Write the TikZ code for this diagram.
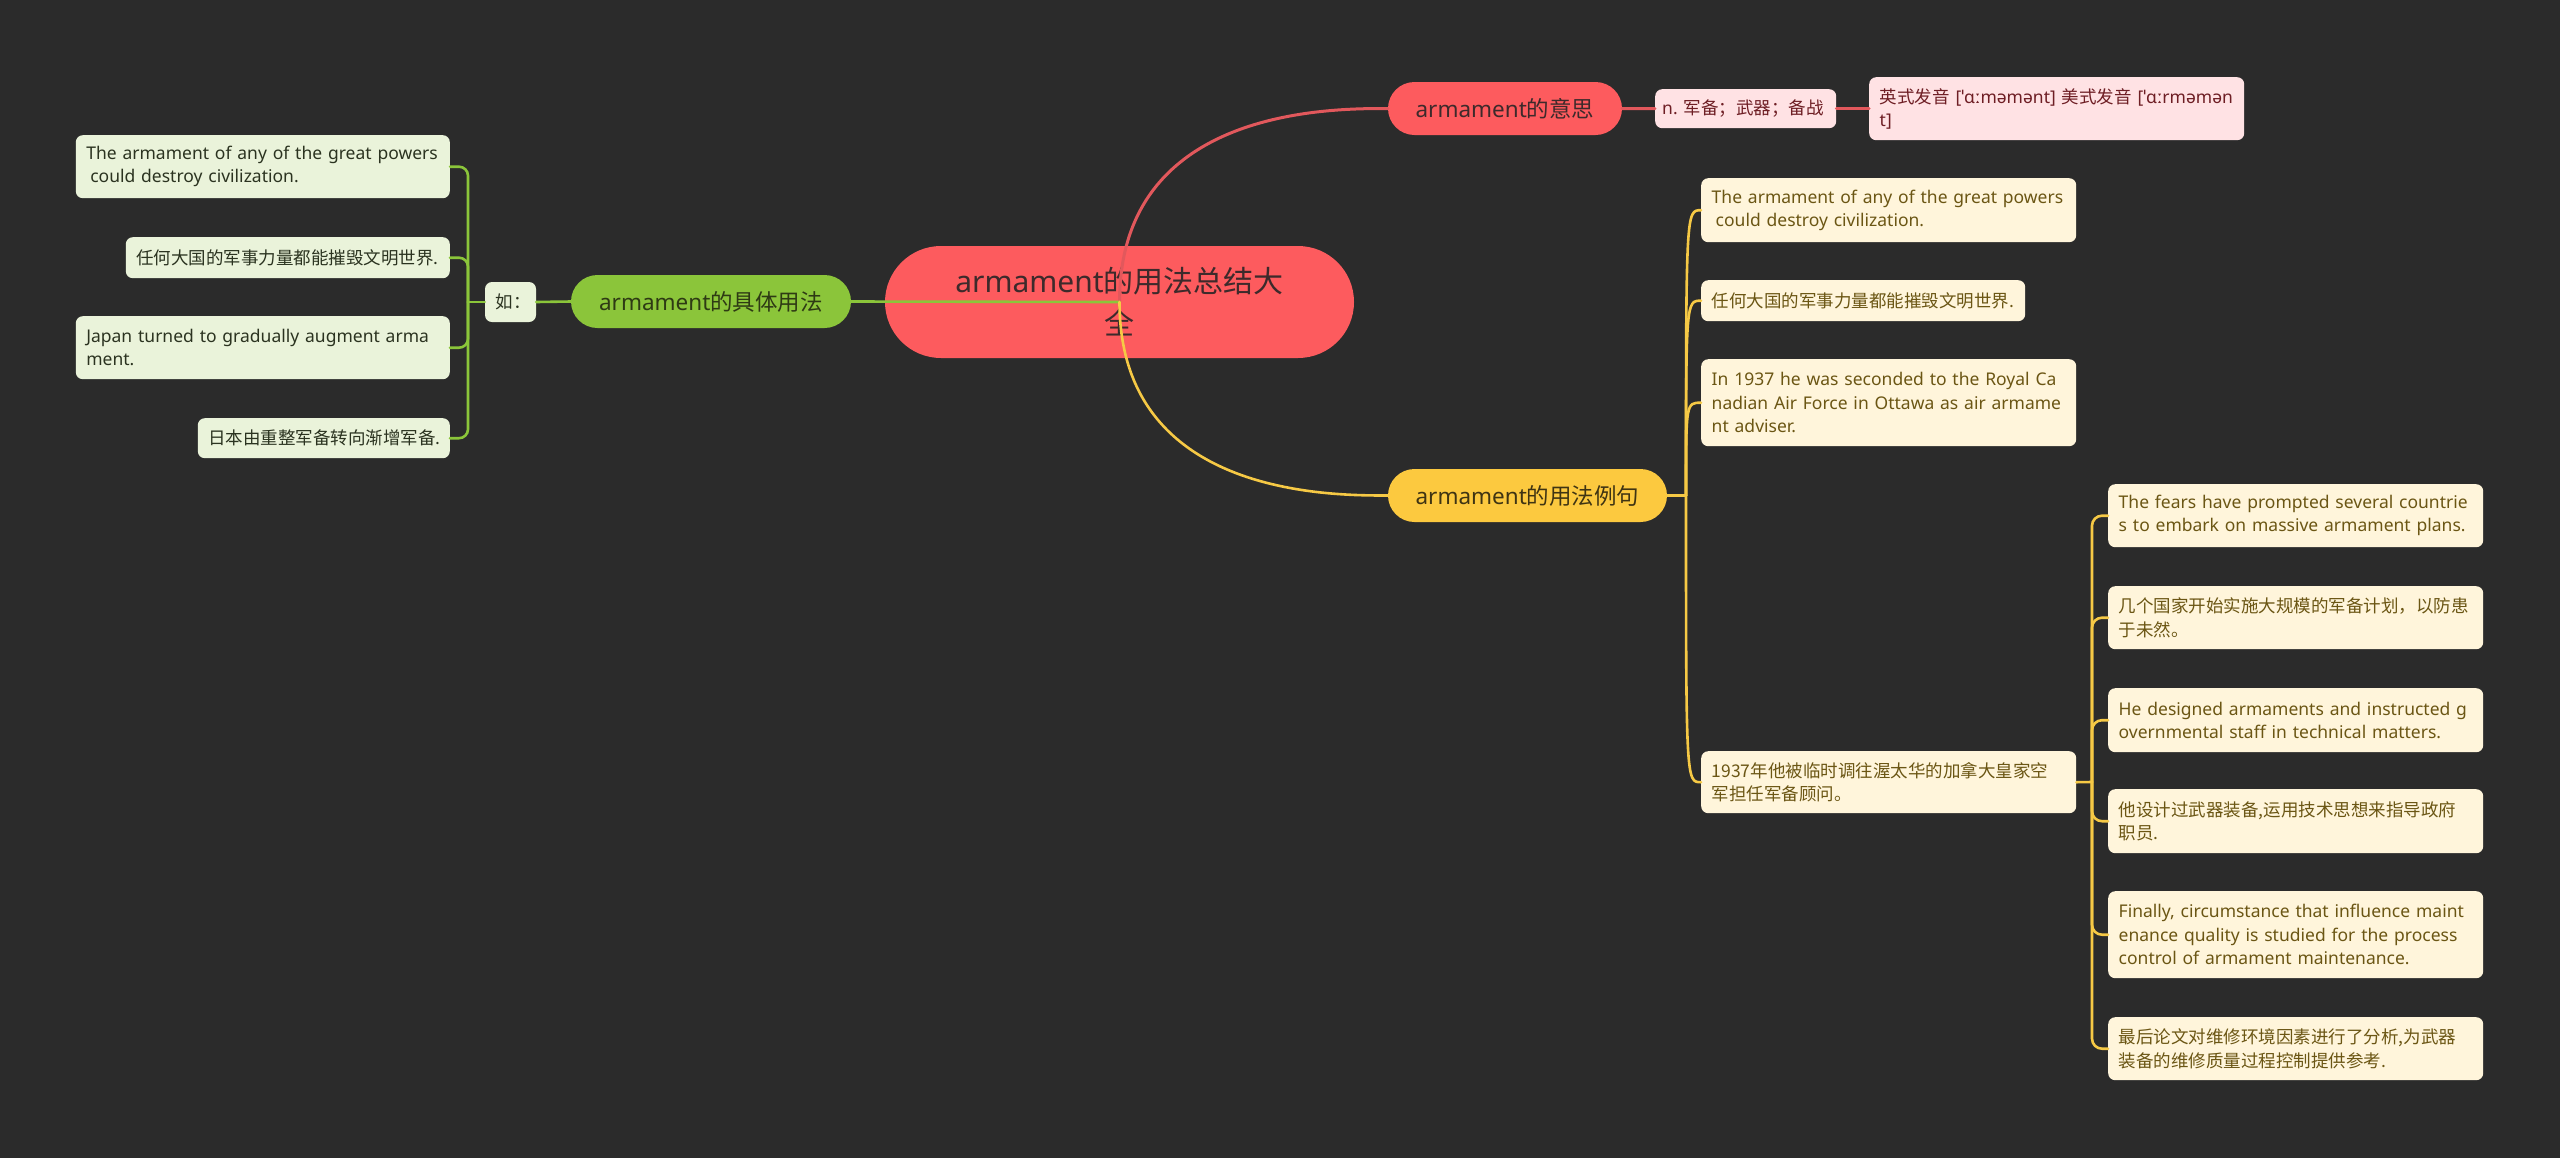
\documentclass[tikz,border=0pt]{standalone}
\usepackage{fontspec}
\setmainfont{Noto Sans}
\newfontfamily\cjk{Noto Sans CJK SC}
\usepackage{xcolor}
\definecolor{bgdark}{HTML}{2B2B2B}
\definecolor{rootred}{HTML}{FD5B5E}
\definecolor{rootink}{HTML}{3D2A2B}
\definecolor{pinkfill}{HTML}{FFE2E4}
\definecolor{pinkink}{HTML}{6E1E24}
\definecolor{redwire}{HTML}{E2585C}
\definecolor{greenfill}{HTML}{8BC53A}
\definecolor{greenink}{HTML}{2E3A14}
\definecolor{paleleaf}{HTML}{EAF3DA}
\definecolor{leafink}{HTML}{2B3320}
\definecolor{yelfill}{HTML}{FCC93F}
\definecolor{yelink}{HTML}{3F3413}
\definecolor{creamfill}{HTML}{FFF5DB}
\definecolor{creamink}{HTML}{6B5614}
\definecolor{yelwire}{HTML}{F6C945}

\tikzset{
  rootnode/.style={fill=rootred, text=rootink, rounded corners=56pt, minimum width=469pt,
    minimum height=112pt, inner sep=0pt, align=center, font=\fontsize{30}{42}\selectfont},
  mainnode/.style={rounded corners=26.5pt, minimum height=53pt, inner sep=0pt,
    font=\fontsize{22.5}{27}\selectfont},
  leaf/.style={rounded corners=7pt, inner xsep=10.5pt, inner ysep=0pt, align=left,
    font=\fontsize{17.5}{23.3}\selectfont},
  redleaf/.style={leaf, fill=pinkfill, text=pinkink},
  greenleaf/.style={leaf, fill=paleleaf, text=leafink},
  yelleaf/.style={leaf, fill=creamfill, text=creamink},
  redline/.style={draw=redwire, line width=3pt},
  greenline/.style={draw=greenfill, line width=2.6pt},
  yelline/.style={draw=yelwire, line width=2.6pt}
}

\begin{document}
\begin{tikzpicture}[x=1pt,y=-1pt,line cap=round]
            % background
            \useasboundingbox (0,0) rectangle (2560,1157);
            \fill[bgdark] (-3,-3) rectangle (2563,1160);

            % centre topic
            \node[rootnode] (root) at (1119.5,302) {armament{\cjk 的用法总结大}\\{\cjk 全}};

            % red branch: meaning
            \node[mainnode, fill=rootred, text=rootink, minimum width=234pt] (mean) at (1505,108.5) {armament{\cjk 的意思}};
            \node[redleaf, inner xsep=7pt, anchor=north west, text width=167pt, minimum height=39pt] (noun) at (1655,89) {n.~{\cjk 军备；武器；备战}};
            \node[redleaf, anchor=north west, text width=354pt, minimum height=63pt] (pron) at (1869,77)
                {{\cjk 英式发音} [ˈɑːmәmәnt] {\cjk 美式发音} [ˈɑːrmәmәn\\t]};

            % green branch: usage
            \node[mainnode, fill=greenfill, text=greenink, minimum width=280pt] (grn) at (711,301.5) {armament{\cjk 的具体用法}};
            \node[greenleaf, text width=30pt, minimum height=40pt] (ru) at (510.5,302) {\cjk 如：};
            \node[greenleaf, anchor=north east, text width=353pt, minimum height=63pt] (l1) at (450,135)
                {The armament of any of the great powers\\\hspace*{4pt}could destroy civilization.};
            \node[greenleaf, anchor=north east, text width=303pt, minimum height=41pt] (l2) at (450,237)
                {\cjk 任何大国的军事力量都能摧毁文明世界.};
            \node[greenleaf, anchor=north east, text width=353pt, minimum height=63pt] (l3) at (450,316)
                {Japan turned to gradually augment arma\\ment.};
            \node[greenleaf, anchor=north east, text width=231pt, minimum height=40pt] (l4) at (450,418)
                {\cjk 日本由重整军备转向渐增军备.};

            % yellow branch: examples
            \node[mainnode, fill=yelfill, text=yelink, minimum width=279pt] (yel) at (1527.5,495.5) {armament{\cjk 的用法例句}};
            \node[yelleaf, anchor=north west, text width=354pt, minimum height=64pt] (y1) at (1701,178)
                {The armament of any of the great powers\\\hspace*{4pt}could destroy civilization.};
            \node[yelleaf, anchor=north west, text width=303pt, minimum height=41pt] (y2) at (1701,280)
                {\cjk 任何大国的军事力量都能摧毁文明世界.};
            \node[yelleaf, anchor=north west, text width=354pt, minimum height=87pt] (y3) at (1701,359)
                {In 1937 he was seconded to the Royal Ca\\nadian Air Force in Ottawa as air armame\\nt adviser.};
            \node[yelleaf, anchor=north west, text width=354pt, minimum height=62pt] (y4) at (1701,751)
                {\cjk 1937年他被临时调往渥太华的加拿大皇家空\\军担任军备顾问。};

            % examples under y4
            \node[yelleaf, anchor=north west, text width=354pt, minimum height=63pt] (g1) at (2108,484)
                {The fears have prompted several countrie\\s to embark on massive armament plans.};
            \node[yelleaf, anchor=north west, text width=354pt, minimum height=63pt] (g2) at (2108,586)
                {\cjk 几个国家开始实施大规模的军备计划，以防患\\于未然。};
            \node[yelleaf, anchor=north west, text width=354pt, minimum height=64pt] (g3) at (2108,688)
                {He designed armaments and instructed g\\overnmental staff in technical matters.};
            \node[yelleaf, anchor=north west, text width=354pt, minimum height=64pt] (g4) at (2108,789)
                {\cjk 他设计过武器装备,运用技术思想来指导政府\\职员.};
            \node[yelleaf, anchor=north west, text width=354pt, minimum height=87pt] (g5) at (2108,891)
                {Finally, circumstance that influence maint\\enance quality is studied for the process\\control of armament maintenance.};
            \node[yelleaf, anchor=north west, text width=354pt, minimum height=63pt] (g6) at (2108,1017)
                {\cjk 最后论文对维修环境因素进行了分析,为武器\\装备的维修质量过程控制提供参考.};

            % red links
            \draw[redline] (root.center) .. controls +(0,-194) and +(-58,0) .. (mean.west);
            \draw[redline] (mean.east) -- (noun.west);
            \draw[redline] (noun.east) -- (pron.west);

            % green links
            \coordinate (gfork) at (468,302);
            \draw[greenline] (root.center) -- (grn.east);
            \draw[greenline] (grn.west) -- (ru.east);
            \draw[greenline] (ru.west) -- (gfork);
            \foreach \n in {l1,l2,l3,l4}
                \draw[greenline, rounded corners=9pt] (gfork) |- (\n.east);

            % yellow links
            \coordinate (yfork) at (1686,495.5);
            \draw[yelline] (root.center) .. controls +(0,194) and +(-58,0) .. (yel.west);
            \draw[yelline] (yel.east) -- (yfork);
            \foreach \n in {y1,y2,y3,y4}
                \draw[yelline] (yfork) .. controls (yfork |- \n.west) .. (\n.west);

            % links from y4
            \coordinate (efork) at (2092,782);
            \draw[yelline] (y4.east) -- (efork);
            \foreach \n in {g1,g2,g3,g4,g5,g6}
                \draw[yelline, rounded corners=10pt] (efork) |- (\n.west);
\end{tikzpicture}
\end{document}
